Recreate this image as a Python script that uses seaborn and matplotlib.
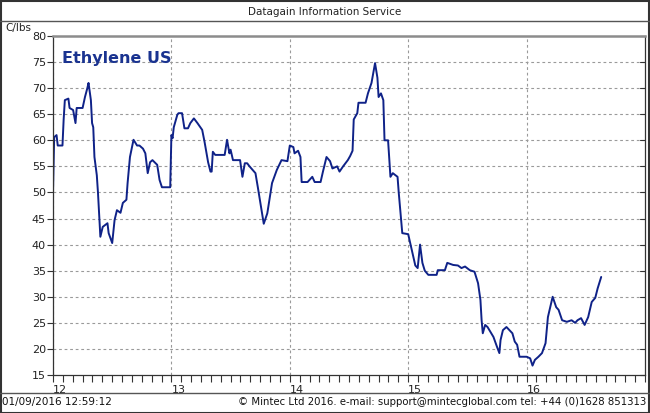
import numpy as np
import pandas as pd
import matplotlib
matplotlib.use("Agg")
import matplotlib.pyplot as plt
from matplotlib.lines import Line2D
import seaborn as sns

# decimal year (12 = Jan 2012) and price in C/lbs
t = [12.00, 12.01, 12.03, 12.04, 12.08, 12.09, 12.10, 12.13, 12.14, 12.17,
     12.19, 12.20, 12.25, 12.27, 12.29, 12.30, 12.32, 12.33, 12.34, 12.35,
     12.37, 12.38, 12.40, 12.42, 12.46, 12.47, 12.50, 12.52, 12.54, 12.57,
     12.59, 12.62, 12.63, 12.65, 12.68, 12.71, 12.73, 12.76, 12.78, 12.80,
     12.82, 12.84, 12.88, 12.90, 12.92, 12.99, 13.00, 13.01, 13.02, 13.05,
     13.06, 13.09, 13.11, 13.14, 13.16, 13.19, 13.22, 13.26, 13.28, 13.29,
     13.31, 13.33, 13.34, 13.35, 13.37, 13.45, 13.47, 13.49, 13.50, 13.52,
     13.58, 13.60, 13.62, 13.64, 13.66, 13.71, 13.73, 13.77, 13.78, 13.81,
     13.85, 13.89, 13.93, 13.98, 14.00, 14.03, 14.04, 14.07, 14.09, 14.10,
     14.15, 14.19, 14.21, 14.26, 14.28, 14.31, 14.34, 14.36, 14.40, 14.42,
     14.45, 14.49, 14.51, 14.53, 14.54, 14.57, 14.58, 14.64, 14.66, 14.69,
     14.72, 14.74, 14.75, 14.77, 14.79, 14.80, 14.83, 14.85, 14.87, 14.91,
     14.92, 14.95, 15.00, 15.03, 15.06, 15.08, 15.10, 15.12, 15.14, 15.17,
     15.24, 15.25, 15.31, 15.33, 15.38, 15.42, 15.45, 15.48, 15.52, 15.56,
     15.59, 15.61, 15.62, 15.63, 15.65, 15.67, 15.72, 15.75, 15.77, 15.78,
     15.80, 15.83, 15.88, 15.90, 15.92, 15.94, 16.00, 16.03, 16.05, 16.07,
     16.10, 16.13, 16.16, 16.18, 16.21, 16.22, 16.25, 16.27, 16.30, 16.34,
     16.38, 16.41, 16.43, 16.46, 16.49, 16.52, 16.55, 16.58, 16.60, 16.63]
price = [50.1, 60.6, 61.0, 59.0, 59.0, 64.0, 67.7, 68.0, 66.2, 65.8,
         63.3, 66.2, 66.2, 68.3, 70.0, 71.0, 67.7, 63.3, 62.5, 56.8,
         53.3, 49.9, 41.5, 43.4, 44.1, 42.2, 40.3, 44.7, 46.6, 46.1,
         48.0, 48.6, 51.8, 56.8, 60.1, 59.0, 59.0, 58.4, 57.5, 53.7,
         55.8, 56.2, 55.3, 52.4, 51.0, 51.0, 61.0, 60.4, 62.5, 64.9,
         65.2, 65.2, 62.3, 62.3, 63.3, 64.2, 63.3, 62.0, 59.7, 58.4,
         55.8, 54.0, 54.0, 57.8, 57.2, 57.2, 60.1, 57.5, 58.2, 56.2,
         56.2, 53.0, 55.6, 55.6, 55.0, 53.7, 51.0, 45.3, 44.0, 46.0,
         51.8, 54.3, 56.2, 56.0, 59.0, 58.7, 57.5, 58.0, 56.8, 52.0,
         52.0, 53.0, 52.0, 52.0, 54.0, 56.8, 56.0, 54.6, 55.0, 54.0,
         55.0, 56.2, 57.0, 58.0, 64.0, 65.2, 67.2, 67.2, 69.0, 71.0,
         74.8, 72.0, 68.3, 69.0, 67.7, 60.0, 60.0, 53.0, 53.7, 53.0,
         50.0, 42.2, 42.0, 39.0, 36.0, 35.5, 40.0, 36.5, 35.0, 34.2,
         34.2, 35.1, 35.1, 36.5, 36.1, 36.0, 35.5, 35.8, 35.1, 34.8,
         32.6, 29.4, 25.5, 23.0, 24.6, 24.2, 22.3, 20.4, 19.2, 21.7,
         23.6, 24.2, 23.0, 21.4, 20.8, 18.5, 18.5, 18.2, 16.8, 17.9,
         18.5, 19.2, 21.1, 26.1, 29.0, 30.0, 28.0, 27.5, 25.5, 25.2,
         25.5, 25.0, 25.5, 25.9, 24.6, 26.1, 29.0, 29.8, 31.6, 33.8]

year_ticks = [12, 13, 14, 15, 16]
year_labels = ["12", "13", "14", "15", "16"]
y_ticks = [15, 20, 25, 30, 35, 40, 45, 50, 55, 60, 65, 70, 75, 80]

df = pd.DataFrame({"t": t, "price": price})

sns.set_style("white")
plt.rcParams["font.family"] = ["DejaVu Sans"]

W, H = 650, 413
fig = plt.figure(figsize=(W / 100, H / 100), dpi=100)
ax = fig.add_axes([53 / W, 1 - 375 / H, (645 - 53) / W, (375 - 36) / H])

sns.lineplot(data=df, x="t", y="price", ax=ax, color="#0f2288", linewidth=1.4)

ax.set_xlim(12, 17)
ax.set_ylim(15, 80)
ax.set_xlabel("")
ax.set_ylabel("")

# grid
grid_kw = dict(color="#9a9a9a", lw=0.8, ls=(0, (2.5, 2.5)), zorder=0)
for v in y_ticks[1:-1]:
    ax.axhline(v, **grid_kw)
for v in year_ticks:
    ax.axvline(v, **grid_kw)

ax.set_xticks(year_ticks)
ax.set_xticklabels(year_labels, ha="left")
ax.set_xticks(np.arange(12, 17.01, 1 / 12), minor=True)
ax.set_yticks(y_ticks)
ax.tick_params(axis="x", which="both", bottom=True, direction="out", length=5,
               width=0.8, color="#333333", labelsize=8, pad=2,
               labelcolor="#222222")
ax.tick_params(axis="y", which="major", left=True, right=False,
               direction="out", length=4, width=0.8, color="#333333",
               labelsize=8, pad=1, labelcolor="#222222")

# right side ticks pointing inward
for v in y_ticks:
    ax.plot([1, 0.992], [v, v], transform=ax.get_yaxis_transform(),
            color="#333333", lw=0.8, clip_on=False)

for side in ["left", "bottom", "right"]:
    ax.spines[side].set_color("#333333")
    ax.spines[side].set_linewidth(0.9)
ax.spines["top"].set_color("#8c8c8c")
ax.spines["top"].set_linewidth(1.8)

ax.text(0.016, 0.955, "Ethylene US", transform=ax.transAxes, fontsize=11.5,
        fontweight="bold", color="#1a3390", va="top", ha="left")

# frame, header and footer
fig.text(325 / W, 1 - 12 / H, "Datagain Information Service", ha="center",
         va="center", fontsize=7.5, color="#222222")
fig.text(5 / W, 1 - 28 / H, "C/lbs", ha="left", va="center", fontsize=7.5,
         color="#222222")
fig.text(2 / W, 1 - 402 / H, "01/09/2016 12:59:12", ha="left", va="center",
         fontsize=7.5, color="#111111")
fig.text(646 / W, 1 - 402 / H,
         "\u00a9 Mintec Ltd 2016. e-mail: support@mintecglobal.com tel: +44 (0)1628 851313",
         ha="right", va="center", fontsize=7.3, color="#111111")

for yy in [21, 393]:
    fig.add_artist(Line2D([0, 1], [1 - yy / H, 1 - yy / H], color="#555555",
                          lw=1.0, transform=fig.transFigure))
fig.add_artist(plt.Rectangle((0.5 / W, 0.5 / H), 1 - 1.5 / W, 1 - 1.5 / H,
                             fill=False, edgecolor="#333333", lw=1.5,
                             transform=fig.transFigure))

fig.savefig("out.png", dpi=100)
